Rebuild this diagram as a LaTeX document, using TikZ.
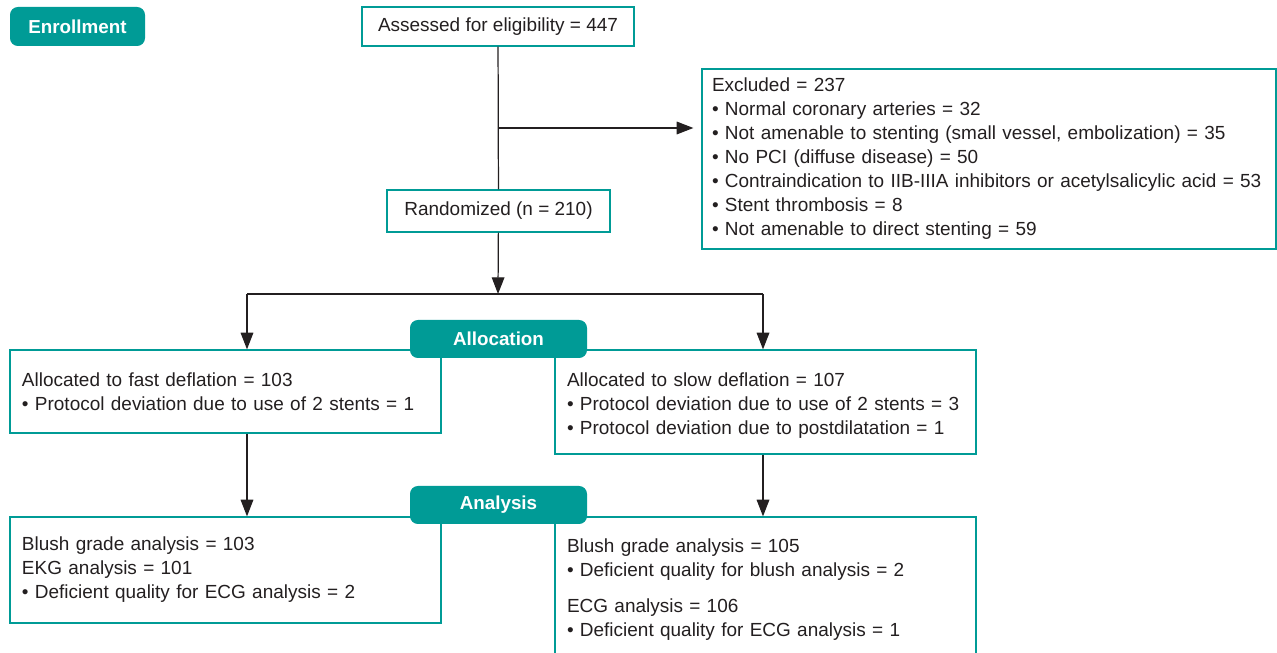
\documentclass[tikz,border=0pt]{standalone}
\usepackage{fontspec}
\setmainfont{Liberation Sans}
\usetikzlibrary{arrows.meta}
\definecolor{flowteal}{RGB}{0,155,150}
\definecolor{flowink}{RGB}{35,31,32}

\begin{document}
\begin{tikzpicture}[
    font=\fontsize{10.8}{13.66}\selectfont,
    box/.style={draw=flowteal, line width=0.7pt, inner xsep=0.24cm, inner ysep=0pt, align=left, text=flowink},
    badge/.style={fill=flowteal, rounded corners=4.5pt, text=white, inner sep=0pt,
        font=\fontsize{10.7}{12}\selectfont\bfseries},
    arr/.style={draw=flowink, line width=0.7pt, -{Triangle[length=9.5pt,width=7.2pt]}},
    conn/.style={draw=flowink, line width=0.7pt}
]
        \clip (0, 0) rectangle (25.54, -13.06);

        \node[box, minimum width=5.44cm, minimum height=0.78cm, align=center] (assess) at (9.96, -0.53) {Assessed for eligibility = 447};
        \node[box, inner xsep=0.2cm, text width=11.08cm, minimum height=3.6cm] (excl) at (19.78, -3.18) {Excluded = 237\\
            • Normal coronary arteries = 32\\
            • Not amenable to stenting (small vessel, embolization) = 35\\
            • No PCI (diffuse disease) = 50\\
            • Contraindication to IIB-IIIA inhibitors or acetylsalicylic acid = 53\\
            • Stent thrombosis = 8\\
            • Not amenable to direct stenting = 59};
        \node[box, minimum width=4.46cm, minimum height=0.84cm, align=center] (rand) at (9.97, -4.22) {Randomized (n = 210)};

        \node[box, text width=8.14cm, minimum height=1.66cm] (lalloc) at (4.51, -7.83) {Allocated to fast deflation = 103\\
            • Protocol deviation due to use of 2 stents = 1};
        \node[box, text width=7.94cm, minimum height=2.08cm] (ralloc) at (15.31, -8.04) {\\[-0.06cm]Allocated to slow deflation = 107\\
            • Protocol deviation due to use of 2 stents = 3\\
            • Protocol deviation due to postdilatation = 1};

        \node[box, text width=8.14cm, minimum height=2.12cm] (lana) at (4.51, -11.4) {Blush grade analysis = 103\\
            EKG analysis = 101\\
            • Deficient quality for ECG analysis = 2};
        \node[box, text width=7.94cm, minimum height=2.92cm] (rana) at (15.31, -11.8) {Blush grade analysis = 105\\
            • Deficient quality for blush analysis = 2\\[0.24cm]
            ECG analysis = 106\\
            • Deficient quality for ECG analysis = 1};

        \coordinate (branch) at (9.96, -2.56);
        \coordinate (lsplit) at (4.94, -5.88);
        \coordinate (rsplit) at (15.26, -5.88);
        \coordinate (mid) at (9.96, -5.88);

        \draw[conn] (assess) -- (rand);
        \draw[arr, shorten >=0.16cm] (branch) -- (branch -| excl.west);
        \draw[arr] (rand) -- (mid);
        \draw[conn] (lsplit) -- (rsplit);
        \draw[arr] (lsplit) -- (lsplit |- lalloc.north);
        \draw[arr] (rsplit) -- (rsplit |- ralloc.north);
        \draw[arr] (lsplit |- lalloc.south) -- (lsplit |- lana.north);
        \draw[arr] (rsplit |- ralloc.south) -- (rsplit |- rana.north);

        \node[badge, minimum width=2.7cm, minimum height=0.78cm] (enrol) at (1.55, -0.53) {Enrollment};
        \node[badge, minimum width=3.54cm, minimum height=0.76cm] (alloc) at (9.97, -6.78) {Allocation};
        \node[badge, minimum width=3.54cm, minimum height=0.76cm] (anal) at (9.97, -10.1) {Analysis};
     \end{tikzpicture}
\end{document}
